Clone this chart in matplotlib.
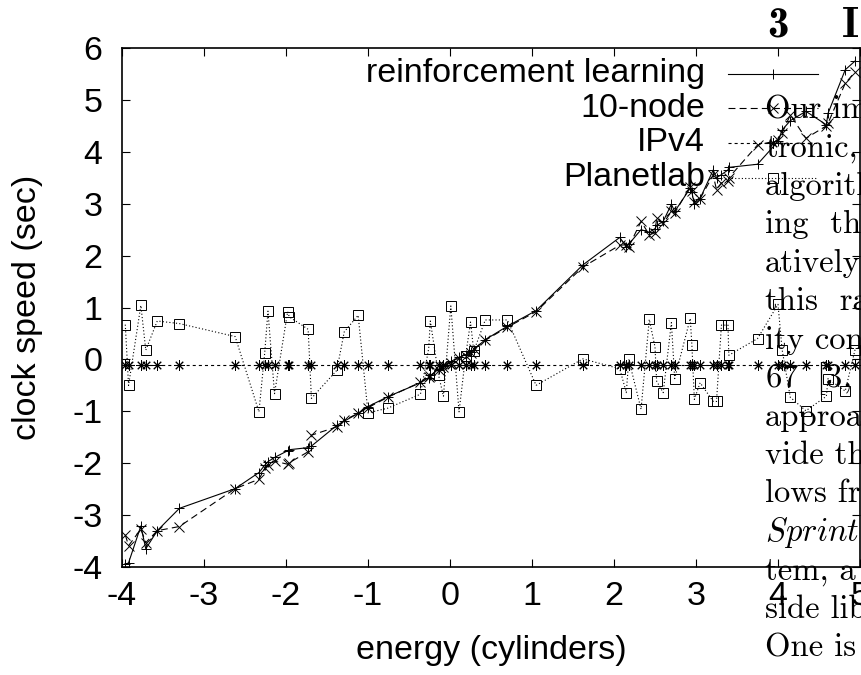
import numpy as np
import matplotlib.pyplot as plt

plt.rcParams['font.family'] = 'Liberation Sans'
plt.rcParams['axes.unicode_minus'] = False
plt.rcParams['mathtext.fontset'] = 'cm'
plt.rcParams['lines.scale_dashes'] = False

# datos
energia = [-3.96, -3.92, -3.77, -3.71, -3.57, -3.30, -2.62, -2.33, -2.26, -2.22,
           -2.14, -1.98, -1.96, -1.73, -1.69, -1.38, -1.29, -1.12, -1.00, -0.76,
           -0.36, -0.26, -0.24, -0.14, -0.08, 0.01, 0.11, 0.19, 0.25, 0.29,
           0.43, 0.70, 1.05, 1.62,
           2.07, 2.15, 2.18, 2.33, 2.43, 2.50, 2.52, 2.60, 2.70, 2.74,
           2.93, 2.95, 2.98, 3.05, 3.21, 3.25, 3.31, 3.39, 3.40, 3.75,
           4.00, 4.05, 4.15, 4.34, 4.59, 4.61, 4.82, 4.94]

refuerzo = [-3.95, -3.92, -3.21, -3.65, -3.30, -2.87, -2.49, -2.18, -2.04, -1.97,
            -1.89, -1.76, -1.74, -1.70, -1.67, -1.27, -1.19, -1.04, -0.91, -0.72,
            -0.45, -0.35, -0.31, -0.19, -0.12, -0.04, 0.04, 0.09, 0.15, 0.19,
            0.38, 0.64, 0.94, 1.82,
            2.35, 2.17, 2.22, 2.50, 2.45, 2.52, 2.58, 2.66, 2.99, 2.85,
            3.30, 3.22, 2.99, 3.10, 3.65, 3.50, 3.56, 3.65, 3.70, 3.76,
            4.20, 4.42, 4.60, 4.78, 4.52, 4.74, 5.58, 5.75]

diez_nodos = [-3.38, -3.59, -3.27, -3.53, -3.30, -3.22, -2.49, -2.31, -2.10, -2.03,
              -1.96, -2.02, -1.99, -1.78, -1.46, -1.30, -1.17, -1.04, -0.93, -0.73,
              -0.44, -0.34, -0.32, -0.21, -0.14, -0.06, 0.02, 0.07, 0.13, 0.20,
              0.37, 0.62, 0.92, 1.78,
              2.20, 2.21, 2.17, 2.66, 2.40, 2.44, 2.72, 2.62, 2.85, 2.82,
              3.33, 3.24, 3.03, 3.10, 3.55, 3.27, 3.40, 3.43, 3.50, 4.13,
              4.22, 4.36, 4.71, 4.26, 4.50, 4.55, 5.32, 5.54]

ipv4 = [-0.1, -0.1, -0.1, -0.1, -0.1, -0.1, -0.1, -0.1, -0.1, -0.1,
        -0.1, -0.1, -0.1, -0.1, -0.1, -0.1, -0.1, -0.1, -0.1, -0.1,
        -0.1, -0.1, -0.1, -0.1, -0.1, -0.1, -0.1, -0.1, -0.1, -0.1,
        -0.1, -0.1, -0.1, -0.1,
        -0.1, -0.1, -0.1, -0.1, -0.1, -0.1, -0.1, -0.1, -0.1, -0.1,
        -0.1, -0.1, -0.1, -0.1, -0.1, -0.1, -0.1, -0.1, -0.1, -0.1,
        -0.1, -0.1, -0.1, -0.1, -0.1, -0.1, -0.1, -0.1]

planetlab = [0.67, -0.50, 1.04, 0.18, 0.74, 0.69, 0.44, -1.01, 0.12, 0.93,
             -0.66, 0.92, 0.82, 0.58, -0.75, -0.21, 0.53, 0.85, -1.03, -0.94,
             -0.67, 0.21, 0.74, -0.30, -0.71, 1.03, -1.01, 0.06, 0.72, 0.16,
             0.76, 0.76, -0.50, 0.01,
             -0.18, -0.64, 0.00, -0.96, 0.77, 0.24, -0.42, -0.64, 0.71, -0.37,
             0.79, 0.27, -0.77, -0.45, -0.81, -0.81, 0.66, 0.66, 0.08, 0.40,
             1.06, 0.19, -0.73, -0.99, -0.71, -0.37, -0.61, 0.19]

series = ["reinforcement learning", "10-node", "IPv4", "Planetlab"]
xticks = [-4, -3, -2, -1, 0, 1, 2, 3, 4, 5]
yticks = [-4, -3, -2, -1, 0, 1, 2, 3, 4, 5, 6]

# texto del articulo que tapa la grafica
titulo = ["3", "I"]
parrafo = ["Our imp", "tronic,", "algorithm", "ing  the", "atively",
           "this  rat", "ity cons", r"$\mathrm{67\ \ [3,\ 7]}$",
           "approach", "vide the", "lows from", r"$\mathit{Sprint}\,$is",
           "tem, a c", "side libr", "One is"]

W, H = 861, 675
fs = 24.5
fig = plt.figure(figsize=(W / 100, H / 100), dpi=100)
ax = fig.add_axes([122 / W, 1 - 567 / H, 738 / W, 519 / H])

estilos = [dict(ls='-', marker='+'),
           dict(ls=(0, (5, 3)), marker='x'),
           dict(ls=(0, (2.2, 2.2)), marker=(8, 2, 0)),
           dict(ls=(0, (0.8, 1.6)), marker='s', mfc='none')]
datos = [refuerzo, diez_nodos, ipv4, planetlab]

for y, st in zip(datos, estilos):
    ax.plot(energia, y, color='black', lw=0.8, ms=7.5, mew=0.7, **st)

ax.set_xlim(-4, 5)
ax.set_ylim(-4, 6)
ax.set_xticks(xticks)
ax.set_xticklabels([str(t) for t in xticks])
ax.set_yticks(yticks)
ax.set_yticklabels([str(t) for t in yticks])
ax.tick_params(direction='in', length=6, width=0.8, top=True, right=True,
               labelsize=fs)
ax.tick_params(axis='x', pad=10)
ax.tick_params(axis='y', pad=14)
for s in ax.spines.values():
    s.set_linewidth(1.2)

ax.set_xlabel("energy (cylinders)", fontsize=fs, va='center')
ax.xaxis.set_label_coords(0.5, (567 - 650) / 519)
ax.set_ylabel("clock speed (sec)", fontsize=fs, va='center')
ax.yaxis.set_label_coords((28 - 122) / 738, 0.5)

# leyenda al estilo gnuplot
filas = [73.5, 108.2, 142.9, 177.6]
for nombre, st, fy in zip(series, estilos, filas):
    yy = (567 - fy) / 519
    ax.text((705 - 122) / 738, yy, nombre, ha='right', va='center',
            fontsize=fs, transform=ax.transAxes)
    xs = [(728 - 122) / 738, (773 - 122) / 738, (818 - 122) / 738]
    ax.plot(xs, [yy, yy, yy], color='black', lw=0.8, ms=7.5, mew=0.7,
            markevery=[1], transform=ax.transAxes, clip_on=False, **st)

fig.text(767 / W, 1 - 37 / H, titulo[0], fontfamily='cmb10', fontsize=31)
fig.text(842 / W, 1 - 37 / H, titulo[1], fontfamily='cmb10', fontsize=31)
for i, linea in enumerate(parrafo):
    fig.text(765 / W, 1 - (118 + 38.45 * i) / H, linea,
             fontfamily='cmr10', fontsize=23.5)

fig.savefig("out.png", dpi=100)
